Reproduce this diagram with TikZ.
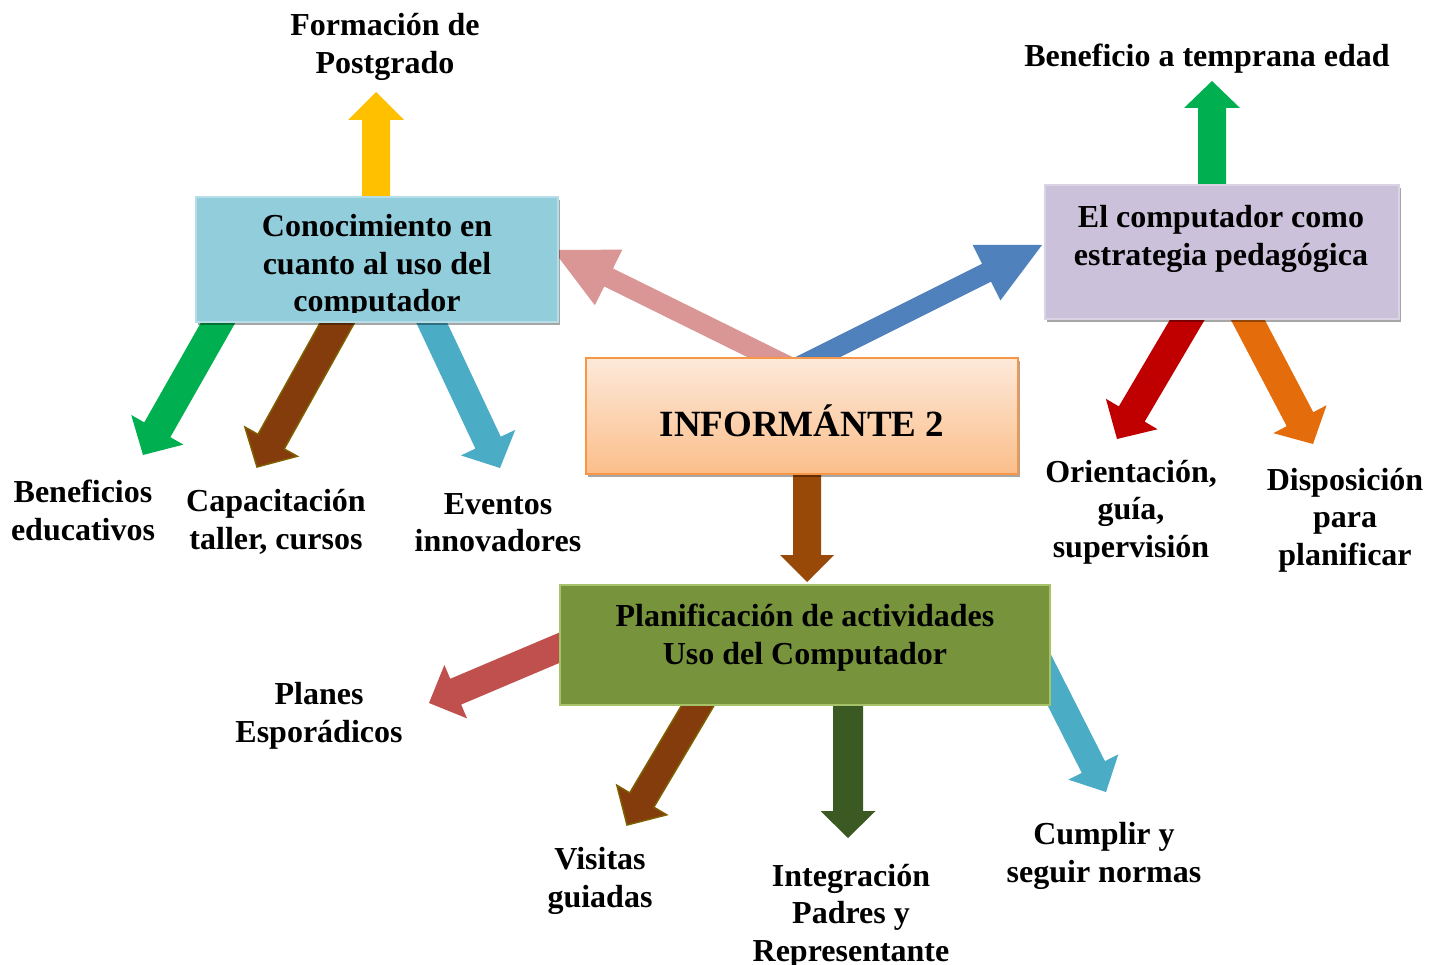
\documentclass[tikz,border=0pt]{standalone}
\usepackage{fontspec}
\setmainfont{Liberation Serif}
\usetikzlibrary{calc,shadows}
\pgfdeclarelayer{background}
\pgfsetlayers{background,main}
\definecolor{cYellow}{HTML}{FFC000}
\definecolor{cGreen}{HTML}{00B050}
\definecolor{cPink}{HTML}{D99694}
\definecolor{cBlue}{HTML}{4F81BD}
\definecolor{cBrown}{HTML}{843C0C}
\definecolor{cBrownEdge}{HTML}{7F6000}
\definecolor{cCyan}{HTML}{4BACC6}
\definecolor{cRed}{HTML}{C00000}
\definecolor{cOrange}{HTML}{E46C0A}
\definecolor{cBrownB}{HTML}{984807}
\definecolor{cRedB}{HTML}{C0504D}
\definecolor{cDGreen}{HTML}{3B5A23}
\definecolor{bxBlue}{HTML}{92CDDC}
\definecolor{bxBlueEdge}{HTML}{B7DEE8}
\definecolor{bxPurple}{HTML}{CCC1DA}
\definecolor{bxPurpleEdge}{HTML}{D9D3E3}
\definecolor{bxOrTop}{HTML}{FDE9D9}
\definecolor{bxOrBot}{HTML}{FBBE8A}
\definecolor{bxOrEdge}{HTML}{F79646}
\definecolor{bxGreen}{HTML}{77933C}
\definecolor{bxGreenEdge}{HTML}{A6C36A}
% block arrow: #1 style, #2 start, #3 end, #4 half shaft, #5 half head, #6 head length
\newcommand\blockarrow[6]{%
  \coordinate (bah) at ($(#3)!#6!(#2)$);
  \filldraw[#1] ($(#2)!#4!90:(#3)$) -- ($(bah)!#4!90:(#3)$) -- ($(bah)!#5!90:(#3)$)
    -- (#3) -- ($(bah)!#5!-90:(#3)$) -- ($(bah)!#4!-90:(#3)$) -- ($(#2)!#4!-90:(#3)$) -- cycle;}
\tikzset{
  box/.style={inner sep=0pt, outer sep=0pt, line width=1.5pt},
  shd/.style={drop shadow={shadow xshift=2pt, shadow yshift=-3pt, fill=black, opacity=0.35}},
  lbl/.style={align=center, inner sep=0pt, font=\bfseries\fontsize{32}{37.5}\selectfont},
  arr/.style={draw=none},
}
\begin{document}
\begin{tikzpicture}[x=1pt,y=-1pt]
\useasboundingbox (0,0) rectangle (1442,965);

% boxes
\node[box, shd, fill=bxBlue, draw=bxBlueEdge, minimum width=362pt, minimum height=125pt] (b1) at (377,259.5) {};
\begin{scope}
  \clip (196,197) rectangle (558,312.5);
  \node[lbl] (t1) at (377,266.5) {Conocimiento en\\cuanto al uso del\\computador};
\end{scope}
\node[box, shd, fill=bxPurple, draw=bxPurpleEdge, minimum width=354pt, minimum height=134pt] (b2) at (1222,252) {};
\node[lbl] (t2) at (1221,239) {El computador como\\estrategia pedagógica};
\node[box, shd, top color=bxOrTop, bottom color=bxOrBot, draw=bxOrEdge, minimum width=432pt, minimum height=116pt] (b0) at (802,416) {};
\node[lbl, font=\bfseries\fontsize{37}{44}\selectfont] (t0) at (802,421) {INFORMÁNTE 2};
\node[box, fill=bxGreen, draw=bxGreenEdge, minimum width=490pt, minimum height=120pt] (b3) at (805,645) {};
\node[lbl] (t3) at (805,637.5) {Planificación de actividades\\Uso del Computador};

% labels
\node[lbl] (l1) at (385,47) {Formación de\\Postgrado};
\node[lbl] (l2) at (1207,59) {Beneficio a temprana edad};
\node[lbl] (l3) at (83,510.5) {Beneficios\\educativos};
\node[lbl] (l4) at (276,522) {Capacitación\\taller, cursos};
\node[lbl] (l5) at (498,522.5) {Eventos\\innovadores};
\node[lbl] (l6) at (1131,512) {Orientación,\\guía,\\supervisión};
\node[lbl] (l7) at (1345,520) {Disposición\\para\\planificar};
\node[lbl] (l8) at (319,716) {Planes\\Esporádicos};
\node[lbl] (l9) at (600,881) {Visitas\\guiadas};
\node[lbl] (l10) at (851,916) {Integración\\Padres y\\Representante};
\node[lbl] (l11) at (1104,856) {Cumplir y\\seguir normas};

% arrow end points
\coordinate (s1) at (376,215);  \coordinate (e1) at (376,92);
\coordinate (s2) at (1212,200); \coordinate (e2) at (1212,81);
\coordinate (s3) at (788,366);  \coordinate (e3) at (553,250);
\coordinate (s4) at (800,366);  \coordinate (e4) at (1042,245);
\coordinate (s5) at (231,300);  \coordinate (e5) at (143,455);
\coordinate (s6) at (350,300);  \coordinate (e6) at (257,467);
\coordinate (s7) at (421,300);  \coordinate (e7) at (500,468);
\coordinate (s8) at (1196,305); \coordinate (e8) at (1117,439);
\coordinate (s9) at (1240,305); \coordinate (e9) at (1313,444);
\coordinate (s10) at (807,460); \coordinate (e10) at (807,582);
\coordinate (s11) at (580,639); \coordinate (e11) at (429,703);
\coordinate (s12) at (707,690); \coordinate (e12) at (627,825);
\coordinate (s13) at (848,690); \coordinate (e13) at (848,838);
\coordinate (s14) at (1029,640);\coordinate (e14) at (1106,792);

\begin{pgfonlayer}{background}
\fill[white] (0,0) rectangle (1442,965);
\blockarrow{arr, fill=cYellow}{s1}{e1}{14pt}{28pt}{28pt}
\blockarrow{arr, fill=cGreen}{s2}{e2}{14pt}{28pt}{27pt}
\blockarrow{arr, fill=cPink}{s3}{e3}{10pt}{31pt}{62pt}
\blockarrow{arr, fill=cBlue}{s4}{e4}{10pt}{31pt}{62pt}
\blockarrow{arr, fill=cGreen}{s5}{e5}{15pt}{30pt}{29pt}
\blockarrow{fill=cBrown, draw=cBrownEdge, line width=1.5pt}{s6}{e6}{15pt}{30pt}{29pt}
\blockarrow{arr, fill=cCyan}{s7}{e7}{14pt}{30pt}{28pt}
\blockarrow{arr, fill=cRed}{s8}{e8}{15pt}{30pt}{29pt}
\blockarrow{arr, fill=cOrange}{s9}{e9}{15pt}{30pt}{28pt}
\blockarrow{arr, fill=cBrownB}{s10}{e10}{14pt}{27pt}{27pt}
\blockarrow{arr, fill=cRedB}{s11}{e11}{14pt}{29pt}{29pt}
\blockarrow{fill=cBrown, draw=cBrownEdge, line width=1.5pt}{s12}{e12}{14pt}{29pt}{29pt}
\blockarrow{arr, fill=cDGreen}{s13}{e13}{15pt}{27.5pt}{27pt}
\blockarrow{arr, fill=cCyan}{s14}{e14}{13pt}{28pt}{28pt}
\end{pgfonlayer}
\end{tikzpicture}
\end{document}
